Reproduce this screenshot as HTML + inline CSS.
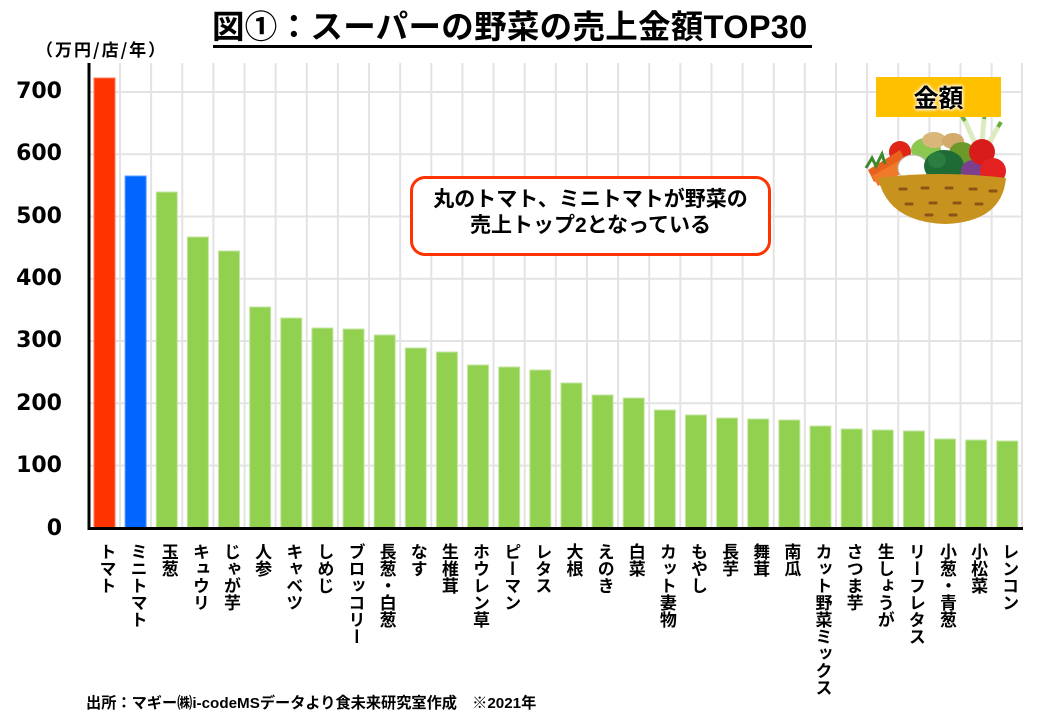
<!DOCTYPE html>
<html><head><meta charset="utf-8"><style>
html,body{margin:0;padding:0;background:#fff;}
body{width:1040px;height:720px;position:relative;overflow:hidden;font-family:"Liberation Sans","Noto Sans CJK JP",sans-serif;}
.abs{position:absolute;}
.title{left:212px;top:5px;font-size:32.5px;font-weight:700;color:#000;white-space:nowrap;line-height:44px;letter-spacing:0.3px;}
.uline{left:213px;top:45px;width:599px;height:3px;background:#000;}
.unit{left:36px;top:37px;font-size:17px;font-weight:700;white-space:nowrap;line-height:24px;letter-spacing:2px;font-family:"Noto Sans CJK JP",sans-serif;}
.lab{top:543px;writing-mode:vertical-rl;text-orientation:upright;font-family:"Noto Sans CJK JP",sans-serif;font-weight:700;font-size:17px;line-height:18px;width:18px;color:#000;white-space:nowrap;}
.call{left:410px;top:176px;width:355px;height:66px;border:3px solid #FF3300;border-radius:15px;background:#fff;text-align:center;font-family:"Liberation Sans","Noto Sans CJK JP",sans-serif;font-weight:700;font-size:21px;line-height:26px;padding-top:8px;box-sizing:content-box;}
.foot{left:86px;top:693px;font-size:15.2px;font-weight:700;white-space:nowrap;line-height:22px;}
.kin{left:876px;top:77px;width:125px;height:40px;background:#FFC000;text-align:center;font-family:"Noto Sans CJK JP",sans-serif;font-weight:700;font-size:25px;line-height:40px;color:#000;text-shadow:0 0 3px #fff,0 0 3px #fff,0 0 4px #fff;}
</style></head><body>
<svg class="abs" style="left:0;top:0" width="1040" height="720" xmlns="http://www.w3.org/2000/svg">
<g stroke="#e3e3e3" stroke-width="2">
<line x1="88" y1="92" x2="1023" y2="92"/>
<line x1="88" y1="154.3" x2="1023" y2="154.3"/>
<line x1="88" y1="216.5" x2="1023" y2="216.5"/>
<line x1="88" y1="278.8" x2="1023" y2="278.8"/>
<line x1="88" y1="341" x2="1023" y2="341"/>
<line x1="88" y1="403.3" x2="1023" y2="403.3"/>
<line x1="88" y1="465.6" x2="1023" y2="465.6"/>
</g>
<g stroke="#e3e3e3" stroke-width="2" id="vg"></g>
<g id="bars"></g>
<line x1="89" y1="63" x2="89" y2="530" stroke="#000" stroke-width="3"/>
<line x1="88" y1="528.5" x2="1023" y2="528.5" stroke="#000" stroke-width="3"/>
<g font-family="DejaVu Sans, Liberation Sans, sans-serif" font-weight="700" font-size="22" text-anchor="end" fill="#000">
<text x="62" y="98">700</text>
<text x="62" y="160">600</text>
<text x="62" y="223">500</text>
<text x="62" y="285">400</text>
<text x="62" y="347">300</text>
<text x="62" y="410">200</text>
<text x="62" y="472">100</text>
<text x="62" y="535">0</text>
</g>
<!-- basket illustration -->
<g>
<circle cx="900" cy="152" r="11" fill="#E02418"/>
<path d="M868 170 L900 150 L906 162 L874 182 Z" fill="#E8621E"/>
<path d="M872 176 L904 158 L908 170 L878 186 Z" fill="#F07A2A"/>
<path d="M866 168 l6 -10 l4 8 l6 -12 l3 10" stroke="#3C8A2A" stroke-width="3" fill="none"/>
<ellipse cx="926" cy="150" rx="15" ry="12" fill="#8CC850"/>
<ellipse cx="934" cy="140" rx="12" ry="8" fill="#D9B77A"/>
<ellipse cx="953" cy="141" rx="11" ry="8" fill="#D2AA6C"/>
<ellipse cx="962" cy="153" rx="13" ry="11" fill="#6B9A2A"/>
<path d="M975 143 l-10 -22 M982 143 l2 -24 M988 145 l10 -18" stroke="#DDEBC0" stroke-width="5"/>
<path d="M965 121 l-3 -5 M984 119 l1 -5 M998 127 l3 -5" stroke="#6AAE3A" stroke-width="4"/>
<ellipse cx="913" cy="168" rx="15" ry="13" fill="#fff" stroke="#bbb" stroke-width="1"/>
<ellipse cx="944" cy="166" rx="20" ry="16" fill="#1E6B35"/>
<ellipse cx="937" cy="160" rx="9" ry="8" fill="#2A7E40"/>
<ellipse cx="973" cy="171" rx="12" ry="11" fill="#7B3F8E"/>
<circle cx="982" cy="152" r="13" fill="#D81C1C"/>
<circle cx="993" cy="171" r="13" fill="#E52222"/>
<path d="M878 178 Q940 170 1006 178 Q1002 222 945 224 Q888 222 878 178 Z" fill="#C8921E"/>
<g stroke="#8A5418" stroke-width="3" stroke-linecap="round">
<line x1="900" y1="189" x2="906" y2="189"/><line x1="922" y1="188" x2="928" y2="188"/><line x1="946" y1="188" x2="952" y2="188"/><line x1="970" y1="189" x2="976" y2="189"/><line x1="990" y1="191" x2="996" y2="191"/>
<line x1="906" y1="204" x2="912" y2="204"/><line x1="930" y1="203" x2="936" y2="203"/><line x1="954" y1="203" x2="960" y2="203"/><line x1="976" y1="204" x2="982" y2="204"/>
<line x1="926" y1="215" x2="932" y2="215"/><line x1="950" y1="215" x2="956" y2="215"/>
</g>
</g>
</svg>
<div class="abs title">図①：スーパーの野菜の売上金額TOP30</div>
<div class="abs uline"></div>
<div class="abs unit">（万円/店/年）</div>
<div class="abs call">丸のトマト、ミニトマトが野菜の<br>売上トップ2となっている</div>
<div class="abs kin">金額</div>
<div class="abs foot">出所：マギー㈱i-codeMSデータより食未来研究室作成　※2021年</div>
<div id="labs"></div>
<script>
var tops=[78,176,192,237,251,307,318,328,329,335,348,352,365,367,370,383,395,398,410,415,418,419,420,426,429,430,431,439,440,441];
var names=["トマト","ミニトマト","玉葱","キュウリ","じゃが芋","人参","キャベツ","しめじ","ブロッコリー","長葱・白葱","なす","生椎茸","ホウレン草","ピーマン","レタス","大根","えのき","白菜","カット妻物","もやし","長芋","舞茸","南瓜","カット野菜ミックス","さつま芋","生しょうが","リーフレタス","小葱・青葱","小松菜","レンコン"];
var ns="http://www.w3.org/2000/svg";
var bars=document.getElementById("bars"),vg=document.getElementById("vg"),labs=document.getElementById("labs");
var step=31.13;
for(var k=0;k<30;k++){var x=120+k*step;if(k==29)x=1022;var l=document.createElementNS(ns,"line");l.setAttribute("x1",x);l.setAttribute("x2",x);l.setAttribute("y1",63);l.setAttribute("y2",528);vg.appendChild(l);}
for(var i=0;i<30;i++){
var x=94+i*step;var r=document.createElementNS(ns,"rect");
r.setAttribute("x",x);r.setAttribute("y",tops[i]);r.setAttribute("width",21);r.setAttribute("height",528-tops[i]);
var c=i==0?"#FF3300":(i==1?"#0066FF":"#92D050");
var s=i==0?"#FF7A5A":(i==1?"#5A9AFF":"#C2E6A0");
r.setAttribute("fill",c);r.setAttribute("stroke",s);r.setAttribute("stroke-width","1");bars.appendChild(r);
var d=document.createElement("div");d.className="abs lab";d.style.left=(104.5+i*step+3-9)+"px";d.textContent=names[i];labs.appendChild(d);}
</script>
</body></html>
